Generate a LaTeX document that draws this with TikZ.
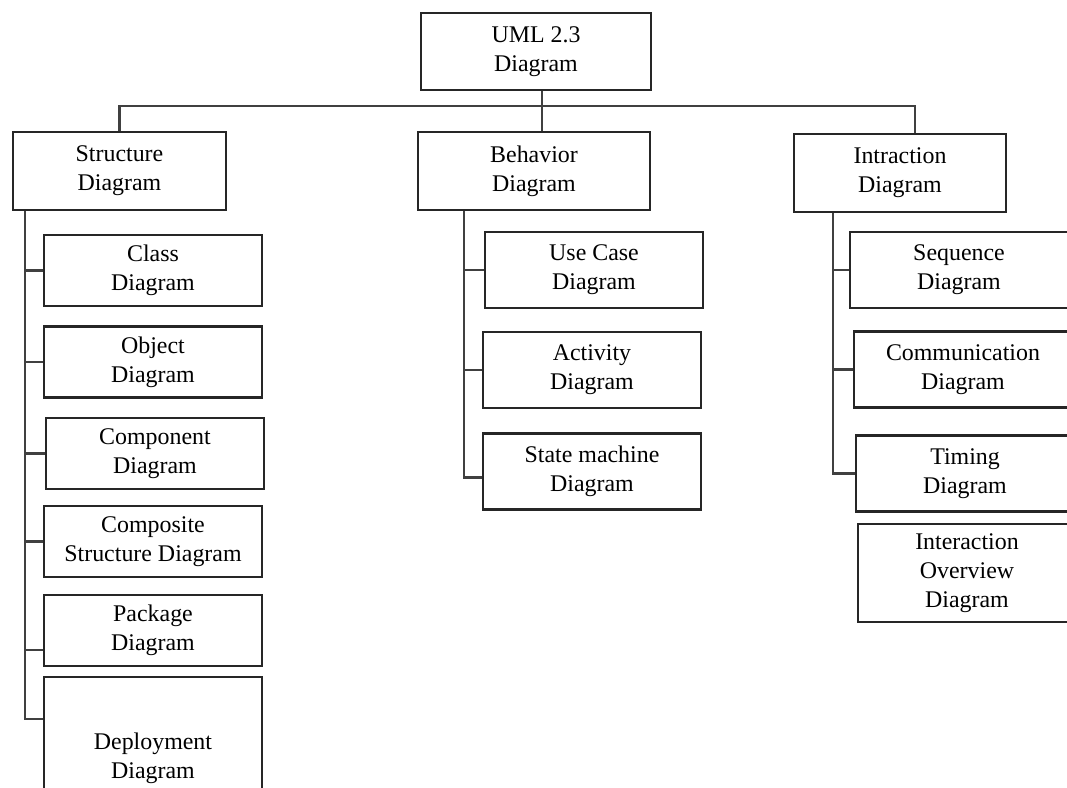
\documentclass[tikz,border=0pt]{standalone}
\usepackage{fontspec}
\setmainfont{Liberation Serif}
\begin{document}
\begin{tikzpicture}

	%DEFINITIONS
	\tikzstyle{every node}=[font=\fontsize{17}{20.5}\selectfont]
	\tikzstyle{block} = [draw=black!85, align=center, line width=0.55mm, inner sep=0pt, minimum width=5.45cm, minimum height=1.775cm]
	\tikzstyle{linea} = [line width=0.55mm, draw=black!75]

	\useasboundingbox (0,0) rectangle (26.675,-19.675);

	%BLOCKS
	\draw(13.4,-1.2875) node[block, minimum width=5.75cm, minimum height=1.925cm](uml){UML 2.3 \\ Diagram};
	\draw(2.9875,-4.275) node[block, minimum width=5.325cm, minimum height=1.95cm](str){Structure \\ Diagram};
	\draw(13.35,-4.275) node[block, minimum width=5.8cm, minimum height=1.95cm](beh){Behavior \\ Diagram};
	\draw(22.5,-4.325) node[block, minimum width=5.3cm, minimum height=1.95cm](int){Intraction \\ Diagram};

	\draw(3.825,-6.7625) node[block](s1){Class \\ Diagram};
	\draw(3.825,-9.05) node[block](s2){Object \\ Diagram};
	\draw(3.875,-11.3375) node[block](s3){Component \\ Diagram};
	\draw(3.825,-13.5375) node[block](s4){Composite \\ Structure Diagram};
	\draw(3.825,-15.7625) node[block](s5){Package \\ Diagram};
	\draw(3.825,-18.95) node[block, minimum height=4.05cm](s6){Deployment \\ Diagram};

	\draw(14.85,-6.75) node[block, minimum height=1.9cm](b1){Use Case \\ Diagram};
	\draw(14.8,-9.25) node[block, minimum height=1.9cm](b2){Activity \\ Diagram};
	\draw(14.8,-11.7875) node[block, minimum height=1.9cm](b3){State machine \\ Diagram};

	\draw(23.975,-6.75) node[block, minimum height=1.9cm](i1){Sequence \\ Diagram};
	\draw(24.075,-9.2375) node[block, minimum height=1.9cm](i2){Communication \\ Diagram};
	\draw(24.125,-11.8375) node[block, minimum height=1.9cm](i3){Timing \\ Diagram};
	\draw(24.175,-14.325) node[block, minimum height=2.45cm](i4){Interaction \\ Overview \\ Diagram};

	%LINES
	\draw [linea] (str.north) -- ++(0,0.625) -| ([xshift=0.375cm]int.north);
	\draw [linea] ([xshift=0.15cm]uml.south) -- ([xshift=0.15cm]uml.south |- beh.north);

	\coordinate (sp) at ([xshift=0.325cm]str.south west);
	\draw [linea] (sp) |- ([yshift=-1.075cm]s6.north west);
	\draw [linea] (sp |- s1.west) -- (s1.west);
	\draw [linea] (sp |- s2.west) -- (s2.west);
	\draw [linea] (sp |- s3.west) -- (s3.west);
	\draw [linea] (sp |- s4.west) -- (s4.west);
	\draw [linea] ([yshift=-0.4875cm]sp |- s5.west) -- ([yshift=-0.4875cm]s5.west);

	\coordinate (bp) at ([xshift=1.175cm]beh.south west);
	\draw [linea] (bp) |- ([yshift=-0.15cm]b3.west);
	\draw [linea] (bp |- b1.west) -- (b1.west);
	\draw [linea] (bp |- b2.west) -- (b2.west);

	\coordinate (ip) at ([xshift=1.0cm]int.south west);
	\draw [linea] (ip) |- (i3.west);
	\draw [linea] (ip |- i1.west) -- (i1.west);
	\draw [linea] (ip |- i2.west) -- (i2.west);
\end{tikzpicture}
\end{document}
